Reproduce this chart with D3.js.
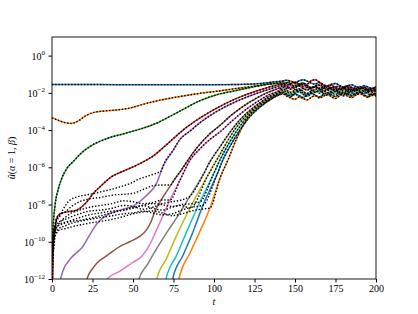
<!DOCTYPE html>
<html>
<head>
<meta charset="utf-8">
<script src="https://cdn.jsdelivr.net/npm/d3@7"></script>
<style>
  body { margin: 0; background: #fff; }
  text { font-family: "Liberation Serif", "DejaVu Serif", serif; }
</style>
</head>
<body>
<script>
// values are log10 of u
const xTicks = [0, 25, 50, 75, 100, 125, 150, 175, 200];
const yTickExp = [0, -2, -4, -6, -8, -10, -12];
const colors = ["#1f77b4", "#ff7f0e", "#2ca02c", "#d62728", "#9467bd", "#8c564b",
                "#e377c2", "#7f7f7f", "#bcbd22", "#17becf", "#1f77b4", "#ff7f0e"];

// early part of each beta curve: [t, log10 u]
const early0 = [[0,-1.55],[20,-1.55],[40,-1.56],[60,-1.56],[80,-1.56],[100,-1.56],[115,-1.55],[125,-1.52],[132,-1.47],[138,-1.40]];
const early1 = [[0,-3.34],[4,-3.48],[8,-3.6],[12,-3.64],[16,-3.52],[21,-3.22],[26,-3.05],[32,-2.98],[40,-2.92],[48,-2.82],[56,-2.62],[67,-2.39],[80,-2.18],[91,-2.03],[103,-1.9],[115,-1.75],[128,-1.6],[138,-1.48]];
const early2 = [[0,-14],[0.5,-9.6],[1.9,-8.03],[3.7,-7.23],[5.6,-6.69],[9.3,-6.04],[13,-5.7],[17.3,-5.3],[23.5,-4.88],[34,-4.45],[45,-4.18],[54.3,-3.95],[64.8,-3.62],[72,-3.3],[79,-2.98],[91.4,-2.42],[101.7,-2.1],[114,-1.87],[128,-1.62],[138,-1.5]];
const early3 = [[0,-14],[0.8,-10.45],[1.8,-9.3],[2.9,-8.73],[4.9,-8.5],[9,-8.4],[15.2,-8.3],[21.4,-7.87],[25.5,-7.4],[29.6,-7.05],[36.9,-6.5],[42,-6.28],[54.3,-5.8],[62.3,-5.4],[72.8,-4.62],[80.9,-4.0],[91.4,-3.35],[101.7,-2.82],[114,-2.3],[128,-1.85],[138,-1.6]];
const early4 = [[4.3,-12.3],[7,-11.5],[11.1,-10.94],[15,-10.6],[18.3,-10.34],[23.5,-9.6],[27.6,-9.05],[33.8,-8.57],[42,-8.3],[50,-8.09],[58.5,-7.5],[64.6,-6.85],[68.5,-5.95],[74.7,-5.1],[79,-4.5],[85.2,-4.05],[91.4,-3.6],[101.7,-3.0],[114,-2.45],[128,-1.98],[138,-1.7]];
const early5 = [[20.8,-12.3],[22,-11.9],[25,-11.45],[27.6,-11.15],[33.8,-10.75],[42,-10.25],[48,-10.0],[54.3,-9.7],[58,-9.4],[61,-8.95],[63.6,-8.35],[66.7,-7.85],[70,-7.4],[73,-7.0],[76,-6.6],[79,-6.25],[85.2,-5.45],[91.4,-4.75],[97.5,-4.2],[103.7,-3.75],[110,-3.25],[116,-2.85],[122,-2.5],[128,-2.2],[134,-1.95],[140,-1.75]];
const early6 = [[33.5,-12.3],[34,-12.0],[42,-11.58],[50,-11.1],[55.6,-10.77],[60.5,-10.13],[63.6,-9.55],[66.7,-8.95],[72.8,-7.76],[79,-6.69],[85.2,-5.61],[91.4,-5.0],[97.5,-4.5],[103.7,-4.1],[110,-3.6],[116,-3.15],[122,-2.75],[128,-2.4],[134,-2.1],[140,-1.88]];
const early7 = [[53.2,-12.3],[53.7,-12.0],[58.6,-11.26],[64.8,-10.34],[71,-9.48],[77.2,-8.68],[85.2,-7.55],[93.2,-6.42],[97.5,-5.7],[103.7,-4.9],[110,-4.1],[116,-3.45],[122,-2.95],[128,-2.55],[134,-2.2],[140,-1.95]];
const early8 = [[64.1,-12.3],[64.6,-12.05],[70.8,-10.88],[77,-9.64],[85.2,-8.19],[96.3,-6.42],[103.7,-5.3],[110,-4.35],[116,-3.6],[122,-3.05],[128,-2.62],[134,-2.28],[140,-2.0]];
const early9 = [[69.9,-12.3],[70.4,-12.0],[77,-10.72],[83.1,-9.47],[91.4,-7.85],[99.4,-6.42],[103.7,-5.6],[110,-4.6],[116,-3.8],[122,-3.15],[128,-2.7],[134,-2.32],[140,-2.05]];
const early10 = [[74,-12.3],[74.5,-12.0],[80.9,-10.72],[87,-9.47],[93.2,-8.03],[101.7,-6.42],[106,-5.5],[110,-4.85],[116,-4.0],[122,-3.3],[128,-2.8],[134,-2.4],[140,-2.1]];
const early11 = [[77.9,-12.3],[78.4,-12.0],[85.2,-10.6],[91.4,-9.43],[97.5,-8.19],[103.7,-6.58],[108.6,-5.61],[114,-4.45],[118,-3.75],[122,-3.2],[128,-2.75],[134,-2.4],[140,-2.12]];

// saturated, noisy part
const tLate = [142.5,145,147.5,150,152.5,155,157.5,160,162.5,165,167.5,170,172.5,175,177.5,180,182.5,185,187.5,190,192.5,195,197.5,200];
const late0 = [-1.36,-1.32,-1.38,-1.44,-1.36,-1.30,-1.37,-1.48,-1.53,-1.45,-1.57,-1.62,-1.54,-1.50,-1.61,-1.70,-1.62,-1.57,-1.66,-1.74,-1.62,-1.69,-1.76,-1.70];
const late1 = [-1.42,-1.47,-1.39,-1.51,-1.58,-1.48,-1.63,-1.71,-1.64,-1.57,-1.67,-1.80,-1.72,-1.67,-1.82,-1.76,-1.69,-1.87,-1.79,-1.72,-1.81,-1.89,-1.77,-1.84];
const late2 = [-1.50,-1.44,-1.55,-1.62,-1.52,-1.47,-1.60,-1.73,-1.66,-1.78,-1.70,-1.64,-1.76,-1.85,-1.74,-1.68,-1.80,-1.92,-1.83,-1.77,-1.71,-1.84,-1.90,-1.81];
const late3 = [-1.52,-1.58,-1.50,-1.43,-1.52,-1.65,-1.55,-1.35,-1.30,-1.42,-1.58,-1.66,-1.59,-1.73,-1.81,-1.69,-1.62,-1.75,-1.86,-1.78,-1.70,-1.82,-1.76,-1.69];
const late4 = [-1.58,-1.66,-1.57,-1.70,-1.62,-1.55,-1.68,-1.78,-1.65,-1.60,-1.72,-1.84,-1.77,-1.69,-1.63,-1.75,-1.88,-1.80,-1.72,-1.66,-1.79,-1.93,-1.84,-1.78];
const late5 = [-1.64,-1.72,-1.80,-1.70,-1.63,-1.76,-1.85,-1.74,-1.68,-1.81,-1.92,-1.80,-1.73,-1.86,-1.96,-1.84,-1.76,-1.70,-1.83,-1.95,-1.86,-1.79,-1.88,-1.82];
const late6 = [-1.70,-1.78,-1.68,-1.82,-1.90,-1.77,-1.71,-1.85,-1.97,-1.86,-1.76,-1.69,-1.82,-1.94,-1.85,-1.78,-1.91,-2.01,-1.88,-1.80,-1.74,-1.87,-1.97,-1.90];
const late7 = [-1.80,-1.88,-1.97,-1.85,-1.78,-1.92,-2.03,-1.90,-1.82,-1.74,-1.87,-1.99,-1.91,-1.83,-1.95,-2.06,-1.93,-1.84,-1.78,-1.90,-2.02,-1.94,-1.86,-1.93];
const late8 = [-1.88,-1.96,-2.05,-1.93,-1.86,-2.00,-2.10,-1.97,-1.89,-2.02,-1.94,-1.85,-1.98,-2.08,-1.96,-1.88,-2.01,-2.12,-1.99,-1.91,-1.85,-1.97,-2.07,-1.98];
const late9 = [-1.95,-2.06,-2.14,-2.02,-1.94,-2.08,-2.18,-2.05,-1.96,-1.90,-2.03,-2.13,-2.01,-1.93,-2.06,-2.16,-2.04,-1.95,-2.09,-2.00,-1.92,-2.05,-2.14,-2.03];
const late10 = [-2.00,-2.12,-2.20,-2.08,-2.15,-2.25,-2.10,-2.02,-2.13,-2.22,-2.09,-1.99,-2.11,-2.19,-2.06,-1.97,-2.08,-2.17,-2.05,-1.96,-2.10,-2.20,-2.07,-2.12];
const late11 = [-2.06,-2.18,-2.28,-2.35,-2.22,-2.30,-2.38,-2.24,-2.15,-2.27,-2.19,-2.08,-2.21,-2.30,-2.16,-2.06,-2.18,-2.26,-2.12,-2.03,-2.15,-2.24,-2.10,-2.17];

// dotted curves for beta >= 4 before they lock onto the solid ones
const dot4 = [[0,-11.0],[1,-9.8],[2.5,-9.0],[5,-8.6],[7,-8.25],[10,-7.85],[15,-7.6],[20,-7.5],[25,-7.42],[30,-7.32],[36,-7.2],[42,-7.05],[48,-6.88],[54,-6.62],[60,-6.45],[65,-6.3],[67.5,-6.2]];
const dot5 = [[0,-10.6],[1,-9.6],[2.5,-8.9],[5,-8.55],[8,-8.4],[12,-8.1],[17,-7.85],[23,-7.7],[30,-7.62],[37,-7.5],[44,-7.45],[50,-7.4],[56,-7.2],[62,-7.0],[68,-6.95],[73,-6.95]];
const dot6 = [[0,-11.4],[1,-10.2],[2.5,-9.3],[5,-8.95],[8,-8.7],[12,-8.45],[17,-8.3],[23,-8.15],[30,-8.05],[37,-7.95],[44,-7.8],[50,-7.85],[56,-7.95],[62,-7.9],[68,-7.75],[72.8,-7.76]];
const dot7 = [[0,-10.2],[1,-9.5],[2.5,-9.1],[5,-8.9],[8,-8.8],[12,-8.65],[17,-8.5],[23,-8.35],[30,-8.3],[37,-8.2],[44,-8.05],[50,-8.1],[56,-8.25],[62,-8.15],[68,-7.95],[74,-7.85],[80,-7.75],[85.2,-7.55]];
const dot8 = [[0,-10.8],[1,-9.9],[2.5,-9.3],[5,-9.05],[8,-8.95],[12,-8.85],[17,-8.7],[23,-8.55],[30,-8.45],[37,-8.35],[44,-8.3],[50,-8.2],[56,-8.05],[62,-7.95],[68,-8.0],[74,-8.1],[80,-8.05],[85.2,-8.19]];
const dot9 = [[0,-9.9],[1,-9.4],[2.5,-9.2],[5,-9.1],[8,-9.0],[12,-8.9],[17,-8.85],[23,-8.75],[30,-8.6],[37,-8.45],[44,-8.3],[50,-8.15],[56,-8.05],[62,-8.2],[68,-8.3],[74,-8.15],[80,-8.0],[86,-7.95],[91.4,-7.85]];
const dot10 = [[0,-11.6],[1,-10.4],[2.5,-9.5],[5,-9.25],[8,-9.15],[12,-9.0],[17,-8.9],[23,-8.8],[30,-8.7],[37,-8.6],[44,-8.5],[50,-8.45],[56,-8.35],[62,-8.45],[68,-8.55],[74,-8.5],[80,-8.3],[86,-8.15],[93.2,-8.03]];
const dot11 = [[0,-10.9],[1,-10.0],[2.5,-9.6],[5,-9.35],[8,-9.3],[12,-9.2],[17,-9.1],[23,-9.0],[30,-8.9],[37,-8.8],[44,-8.65],[50,-8.5],[56,-8.4],[62,-8.35],[68,-8.45],[74,-8.6],[80,-8.5],[86,-8.35],[92,-8.25],[97.5,-8.19]];

const earlies = [early0, early1, early2, early3, early4, early5, early6, early7, early8, early9, early10, early11];
const lates = [late0, late1, late2, late3, late4, late5, late6, late7, late8, late9, late10, late11];
const dots = [null, null, null, null, dot4, dot5, dot6, dot7, dot8, dot9, dot10, dot11];

const width = 418, height = 314;
const margin = {left: 52, right: 376, top: 37, bottom: 279};
const serif = '"Liberation Serif", "DejaVu Serif", serif';

const svg = d3.select("body").append("svg")
    .attr("width", width)
    .attr("height", height);

const x = d3.scaleLinear().domain([0, 200]).range([margin.left, margin.right]);
const y = d3.scaleLog().domain([1e-12, 10]).range([margin.bottom, margin.top]);

svg.append("defs").append("clipPath").attr("id", "plot")
  .append("rect")
    .attr("x", margin.left).attr("y", margin.top)
    .attr("width", margin.right - margin.left).attr("height", margin.bottom - margin.top);

const line = d3.line()
    .x(d => x(d[0]))
    .y(d => y(Math.pow(10, d[1])))
    .curve(d3.curveMonotoneX);

// full solid curves
const solid = earlies.map((e, i) => e.concat(tLate.map((t, j) => [t, lates[i][j]])));

// dotted curves: own start, then follow the solid one
const dotted = solid.map((s, i) => {
    if (!dots[i]) return s;
    var d = dots[i];
    var tj = d[d.length - 1][0];
    return d.concat(s.filter(p => p[0] > tj));
});

const g = svg.append("g").attr("clip-path", "url(#plot)");

g.selectAll("path.solid")
  .data(solid)
  .enter().append("path")
    .attr("class", "solid")
    .attr("d", line)
    .style("fill", "none")
    .style("stroke", (d, i) => colors[i])
    .style("stroke-width", 1.5)
    .style("stroke-linejoin", "round");

g.selectAll("path.dot")
  .data(dotted)
  .enter().append("path")
    .attr("class", "dot")
    .attr("d", line)
    .style("fill", "none")
    .style("stroke", "#000")
    .style("stroke-width", 1.4)
    .style("stroke-dasharray", "1.4,1.8");

// axes
const xAxis = svg.append("g")
    .attr("transform", "translate(0," + margin.bottom + ")")
    .call(d3.axisBottom(x).tickValues(xTicks).tickSize(3.5).tickPadding(2));
xAxis.select(".domain").remove();
xAxis.attr("font-family", serif).attr("font-size", 10);
xAxis.selectAll("text").style("font-family", serif).style("fill", "#000");

const yAxis = svg.append("g")
    .attr("transform", "translate(" + margin.left + ",0)")
    .call(d3.axisLeft(y).tickValues(yTickExp.map(e => Math.pow(10, e))).tickSize(3.5).tickFormat(""));
yAxis.select(".domain").remove();

yTickExp.forEach(function (e) {
    var t = svg.append("text")
        .attr("x", 45)
        .attr("y", y(Math.pow(10, e)) + 4)
        .attr("text-anchor", "end")
        .style("font-family", serif)
        .style("font-size", "10px");
    t.append("tspan").text("10");
    t.append("tspan")
        .attr("dy", -4.5)
        .style("font-size", "7px")
        .text(e === 0 ? "0" : "\u2212" + (-e));
});

svg.append("rect")
    .attr("x", margin.left).attr("y", margin.top)
    .attr("width", margin.right - margin.left).attr("height", margin.bottom - margin.top)
    .style("fill", "none")
    .style("stroke", "#000")
    .style("stroke-width", 0.9);

svg.append("text")
    .attr("x", (margin.left + margin.right) / 2)
    .attr("y", 305)
    .attr("text-anchor", "middle")
    .style("font-family", serif)
    .style("font-size", "10px")
    .style("font-style", "italic")
    .text("t");

const yl = svg.append("text")
    .attr("transform", "translate(15," + (margin.top + margin.bottom) / 2 + ") rotate(-90)")
    .attr("text-anchor", "middle")
    .style("font-family", serif)
    .style("font-size", "10px");
yl.append("tspan").style("font-style", "italic").text("\u00fb");
yl.append("tspan").text("(");
yl.append("tspan").style("font-style", "italic").text("\u03b1");
yl.append("tspan").text(" = 1, ");
yl.append("tspan").style("font-style", "italic").text("\u03b2");
yl.append("tspan").text(")");
</script>
</body>
</html>
